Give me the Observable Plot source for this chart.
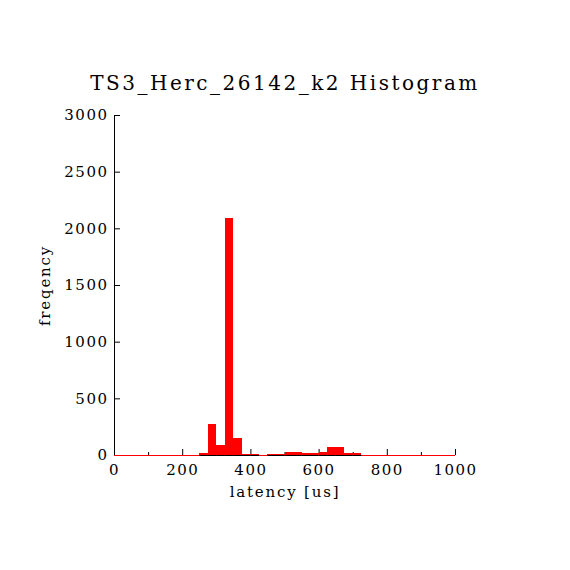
<!DOCTYPE html>
<html>
<head>
<meta charset="utf-8">
<script src="https://cdn.jsdelivr.net/npm/d3@7"></script>
<script src="https://cdn.jsdelivr.net/npm/@observablehq/plot@0.6"></script>
<style>
  html, body { margin: 0; padding: 0; background: #fff; }
  svg text { font-family: "DejaVu Serif", serif; }
  g[aria-label="x-axis tick label"] text, g[aria-label="y-axis tick label"] text { letter-spacing: 1.5px; }
  text[aria-label="chart-title"], [aria-label="chart-title"] text { letter-spacing: 2.5px; }
  text[aria-label="axis-label"], [aria-label="axis-label"] text { letter-spacing: 1.8px; }
</style>
</head>
<body>
<div id="chart"></div>
<script>
// Histogram bins (lower edges, upper edges) and counts
const binLo = [0,25,50,75,100,125,150,175,200,225,250,275,300,325,350,375,400,425,450,475,500,525,550,575,600,625,650,675,700,725,750,775,800,825,850,875,900,925,950,975];
const binHi = [25,50,75,100,125,150,175,200,225,250,275,300,325,350,375,400,425,450,475,500,525,550,575,600,625,650,675,700,725,750,775,800,825,850,875,900,925,950,975,1000];
const counts = [0,0,0,0,0,0,0,0,0,0,20,275,90,2095,150,12,10,0,10,10,23,30,20,20,30,68,68,20,20,0,0,0,0,0,0,0,0,0,0,0];

const xMajor = [0, 200, 400, 600, 800, 1000];
const xMinor = [100, 300, 500, 700, 900];
const yTicks = [0, 500, 1000, 1500, 2000, 2500, 3000];

const titleText = "TS3_Herc_26142_k2 Histogram";
const xLabel = "latency [us]";
const yLabel = "freqency";

const bins = binLo.map((lo, i) => ({x0: lo, x1: binHi[i], count: counts[i]}));
const nonzero = bins.filter(d => d.count > 0);

const W = 570, H = 570, mL = 114, mR = 115, mT = 115, mB = 115;
const frameW = W - mL - mR, frameH = H - mT - mB;

const chart = Plot.plot({
  width: W, height: H,
  marginLeft: mL, marginRight: mR, marginTop: mT, marginBottom: mB,
  x: {domain: [0, 1000], label: null},
  y: {domain: [0, 3000], label: null},
  style: {background: "#fff", color: "#000", fontFamily: "DejaVu Serif"},
  marks: [
    // tick labels
    Plot.axisX(xMajor, {tickSize: 0, tickPadding: 9, fontSize: 15, label: null, tickFormat: d => String(d)}),
    Plot.axisY(yTicks, {tickSize: 0, tickPadding: 6, fontSize: 15, label: null, tickFormat: d => String(d)}),
    // inward ticks
    Plot.ruleX(xMajor, {insetTop: frameH - 6, stroke: "#000"}),
    Plot.ruleX(xMinor, {insetTop: frameH - 3, stroke: "#000"}),
    Plot.ruleY(yTicks, {insetRight: frameW - 6, stroke: "#000"}),
    // left axis line
    Plot.ruleX([0], {stroke: "#000"}),
    // baseline (zero bins drawn red)
    Plot.ruleY([0], {stroke: "red"}),
    // bars
    Plot.rectY(bins, {x1: "x0", x2: "x1", y: "count", fill: "red", shapeRendering: "crispEdges"}),
    Plot.ruleY(nonzero, {x1: "x0", x2: "x1", y: 0, stroke: "#000"}),
    // title and axis labels
    Plot.text([titleText], {frameAnchor: "top", dy: -32, fontSize: 20, lineAnchor: "middle", textAnchor: "middle", ariaLabel: () => "chart-title"}),
    Plot.text([xLabel], {frameAnchor: "bottom", dy: 37, fontSize: 15, lineAnchor: "middle", textAnchor: "middle", ariaLabel: () => "axis-label"}),
    Plot.text([yLabel], {frameAnchor: "left", dx: -69, rotate: -90, fontSize: 15, lineAnchor: "middle", textAnchor: "middle", ariaLabel: () => "axis-label"})
  ]
});
document.getElementById("chart").appendChild(chart);
</script>
</body>
</html>
